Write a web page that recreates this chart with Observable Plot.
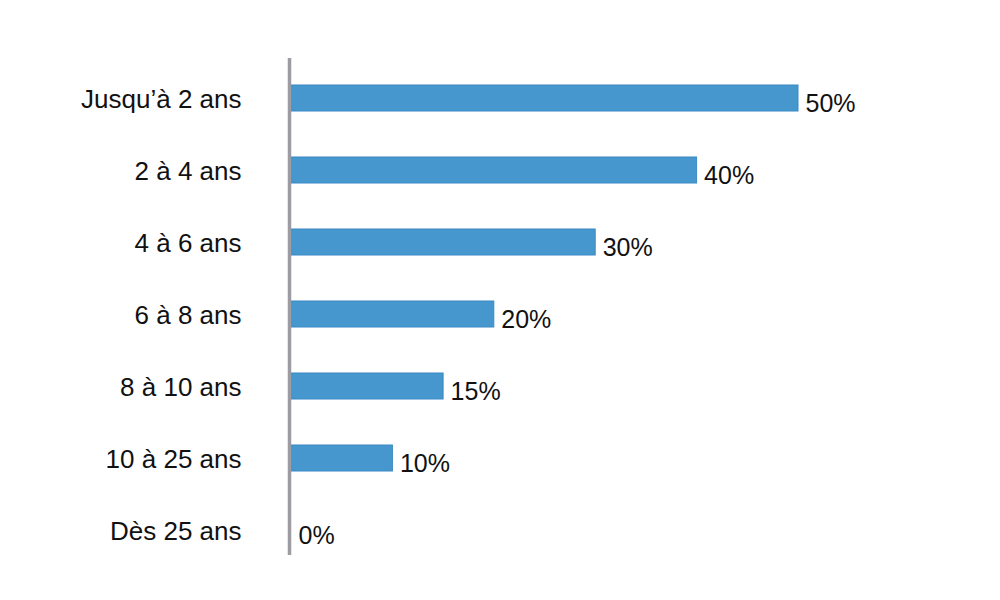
<!DOCTYPE html>
<html>
<head>
<meta charset="utf-8">
<script src="https://cdn.jsdelivr.net/npm/d3@7"></script>
<script src="https://cdn.jsdelivr.net/npm/@observablehq/plot@0.6"></script>
<style>
  html, body { margin: 0; padding: 0; background: #fff; }
  #chart { width: 1000px; height: 600px; }
</style>
</head>
<body>
<div id="chart"></div>
<script>
const categories = ["Jusqu’à 2 ans", "2 à 4 ans", "4 à 6 ans", "6 à 8 ans", "8 à 10 ans", "10 à 25 ans", "Dès 25 ans"];
const values = [50, 40, 30, 20, 15, 10, 0];
const valueLabels = ["50%", "40%", "30%", "20%", "15%", "10%", "0%"];

const data = categories.map((c, i) => ({category: c, value: values[i], label: valueLabels[i]}));

const chart = Plot.plot({
  width: 1000,
  height: 600,
  marginLeft: 291,
  marginRight: 202,
  marginTop: 59,
  marginBottom: 32,
  style: {fontFamily: "'Liberation Sans', Arial, sans-serif", color: "#111", background: "#fff"},
  x: {domain: [0, 50], axis: null},
  y: {domain: categories, paddingInner: 0.64, paddingOuter: 0.32, align: 0.5, axis: null},
  marks: [
    Plot.barX(data, {x: "value", y: "category", fill: "#4697cd", stroke: "#3b8ac4", strokeWidth: 1}),
    Plot.ruleX([0], {stroke: "#9c9ca2", strokeWidth: 3.5, dx: -2, insetBottom: 13, insetTop: -1}),
    Plot.axisY({tickSize: 0, tickPadding: 50, fontSize: 26, label: null, dy: 1}),
    Plot.text(data, {x: "value", y: "category", text: "label", textAnchor: "start", dx: 7, dy: 5, fontSize: 25, fill: "#111"})
  ]
});
document.getElementById("chart").appendChild(chart);
</script>
</body>
</html>
